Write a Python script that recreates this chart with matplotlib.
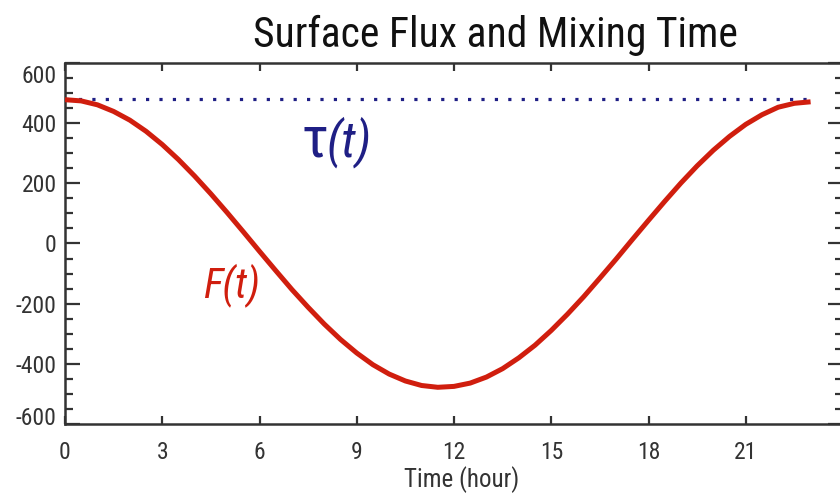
import matplotlib
matplotlib.use("Agg")
import matplotlib.pyplot as plt
from matplotlib import font_manager
from matplotlib.ticker import MultipleLocator
from matplotlib.transforms import ScaledTranslation

# Data
hours = [0, 0.5, 1, 1.5, 2, 2.5, 3, 3.5, 4, 4.5, 5, 5.5, 6, 6.5, 7, 7.5, 8, 8.5,
         9, 9.5, 10, 10.5, 11, 11.5, 12, 12.5, 13, 13.5, 14, 14.5, 15, 15.5,
         16, 16.5, 17, 17.5, 18, 18.5, 19, 19.5, 20, 20.5, 21, 21.5, 22, 22.5, 23]
flux = [478, 474, 461, 439, 410, 373, 329, 279, 224, 165, 103, 39, -26, -90,
        -153, -212, -268, -319, -364, -403, -434, -457, -472, -478, -475, -464,
        -444, -416, -380, -338, -289, -235, -177, -115, -52, 13, 77, 140, 201,
        258, 310, 356, 396, 428, 453, 466, 471]
tau_hours = [0, 23]
tau_value = [480, 480]
x_ticks = [0, 3, 6, 9, 12, 15, 18, 21]
y_ticks = [-600, -400, -200, 0, 200, 400, 600]

names = {f.name for f in font_manager.fontManager.ttflist}
cands = ['Roboto Condensed', 'Archivo Narrow', 'Barlow Condensed']
fam = [c for c in cands if c in names][:1] + ['DejaVu Sans']
plt.rcParams['font.family'] = fam
plt.rcParams['axes.unicode_minus'] = False

W, H = 840, 494
fig = plt.figure(figsize=(W / 100, H / 100), dpi=100)
ax = fig.add_axes([65 / W, (H - 424) / H, (843 - 65) / W, (424 - 63) / H])

ax.plot(tau_hours, tau_value, color='#1f1f85', linestyle=(0, (1, 3.2)),
        linewidth=2.3, zorder=2)
ax.plot(hours, flux, color='#d01e0e', linewidth=3.6, solid_capstyle='butt',
        solid_joinstyle='round', zorder=3)

ax.set_xlim(0, 24)
ax.set_ylim(-600, 600)
ax.set_xticks(x_ticks)
ax.set_yticks(y_ticks)
ax.yaxis.set_minor_locator(MultipleLocator(50))

ax.tick_params(axis='y', which='major', direction='in', length=11, width=1.6,
               left=True, right=True, labelsize=17, colors='#333333', pad=6)
ax.tick_params(axis='y', which='minor', direction='in', length=6, width=1.6,
               left=True, right=True, colors='#333333')
ax.tick_params(axis='x', which='major', direction='in', length=6, width=1.6,
               top=True, bottom=True, labelsize=17, colors='#333333', pad=12)
ax.tick_params(axis='x', which='minor', bottom=False, top=False)

# end labels of the y axis sit inside the frame, as in the reference
ylabels = ax.get_yticklabels()
ylabels[0].set_transform(ylabels[0].get_transform()
                         + ScaledTranslation(0, 8 / 100, fig.dpi_scale_trans))
ylabels[-1].set_transform(ylabels[-1].get_transform()
                          + ScaledTranslation(0, -11 / 100, fig.dpi_scale_trans))

for s in ax.spines.values():
    s.set_linewidth(1.8)
    s.set_color('#333333')

fig.text(462 / W, 1 - 480 / H, 'Time (hour)', ha='center', va='center',
         fontsize=18, color='#333333')
fig.text(495 / W, 1 - 47 / H, 'Surface Flux and Mixing Time', ha='center',
         va='baseline', fontsize=30, color='#111111')

ax.text(7.7, 288, 'τ', fontsize=42, color='#1f1f85', ha='center', va='baseline')
ax.text(8.05, 288, '(t)', fontsize=36, color='#1f1f85', ha='left', va='baseline',
        style='italic')
ax.text(4.26, -178, 'F(t)', fontsize=30, color='#d01e0e', ha='left', va='baseline',
        style='italic')

fig.savefig('out.png', dpi=100, facecolor='white')
